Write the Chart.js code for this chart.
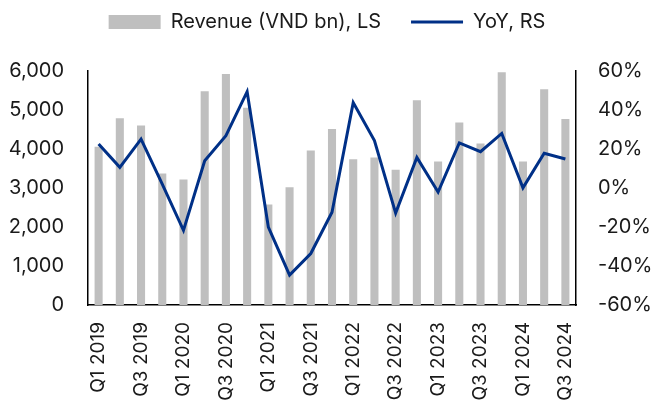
<!DOCTYPE html>
<html>
<head>
<meta charset="utf-8">
<script src="https://cdn.jsdelivr.net/npm/chart.js@4.4.1/dist/chart.umd.min.js"></script>
<style>
  html, body { margin: 0; padding: 0; background: #fff; }
  #wrap { width: 654px; height: 405px; }
</style>
</head>
<body>
<div id="wrap"><canvas id="chart" width="654" height="405"></canvas></div>
<script>
var quarters = [
  'Q1 2019', 'Q2 2019', 'Q3 2019', 'Q4 2019',
  'Q1 2020', 'Q2 2020', 'Q3 2020', 'Q4 2020',
  'Q1 2021', 'Q2 2021', 'Q3 2021', 'Q4 2021',
  'Q1 2022', 'Q2 2022', 'Q3 2022', 'Q4 2022',
  'Q1 2023', 'Q2 2023', 'Q3 2023', 'Q4 2023',
  'Q1 2024', 'Q2 2024', 'Q3 2024'
];

// Revenue, VND bn (left scale)
var revenue = [
  4060, 4790, 4600, 3370,
  3220, 5480, 5920, 5060,
  2580, 3020, 3960, 4510,
  3740, 3780, 3470, 5250,
  3680, 4680, 4140, 5970,
  3680, 5530, 4770
];

// YoY growth, % (right scale)
var yoy = [
  22.6, 10.6, 25.1, 2.0,
  -21.7, 14.0, 26.8, 49.4,
  -20.0, -44.7, -33.6, -12.4,
  43.8, 24.3, -12.9, 15.7,
  -2.1, 23.1, 18.6, 28.0,
  0.1, 17.8, 14.9
];

var FONT = 'Inter, "Noto Sans", Roboto, sans-serif';
var TEXT = '#1a1a1a';
var GREY = '#bfbfbf';
var NAVY = '#003087';

var ctx = document.getElementById('chart').getContext('2d');

var chart = new Chart(ctx, {
  type: 'bar',
  data: {
    labels: quarters,
    datasets: [
      {
        type: 'bar',
        label: 'Revenue (VND bn), LS',
        data: revenue,
        backgroundColor: GREY,
        borderWidth: 0,
        barPercentage: 0.38,
        categoryPercentage: 1,
        yAxisID: 'y',
        pointStyle: 'rect',
        order: 2
      },
      {
        type: 'line',
        label: 'YoY, RS',
        data: yoy,
        borderColor: NAVY,
        backgroundColor: NAVY,
        borderWidth: 3,
        tension: 0,
        pointRadius: 0,
        pointStyle: 'line',
        yAxisID: 'y1',
        order: 1
      }
    ]
  },
  options: {
    responsive: false,
    animation: false,
    layout: { padding: { top: -18, left: 0, right: 0, bottom: 0 } },
    plugins: {
      tooltip: { enabled: false },
      legend: {
        position: 'top',
        labels: {
          usePointStyle: true,
          pointStyleWidth: 52,
          boxHeight: 14,
          padding: 30,
          color: TEXT,
          font: { family: FONT, size: 20 },
          sort: function(a, b) { return a.datasetIndex - b.datasetIndex; }
        }
      },
      // empty spacer between legend and plot
      title: {
        display: true,
        text: '',
        weight: 500,
        font: { size: 10 },
        padding: { top: 0, bottom: 17 }
      }
    },
    scales: {
      x: {
        grid: { display: false, drawTicks: false },
        border: { display: true, color: '#000', width: 1.5 },
        afterFit: function(scale) { scale.height = 100; },
        ticks: {
          autoSkip: false,
          maxRotation: 90,
          minRotation: 90,
          padding: 17,
          color: TEXT,
          font: { family: FONT, size: 19 },
          callback: function(value, index) {
            return index % 2 === 0 ? this.getLabelForValue(value) : '';
          }
        }
      },
      y: {
        position: 'left',
        min: 0,
        max: 6000,
        grid: { display: false, drawTicks: false },
        border: { display: true, color: '#000', width: 1.5 },
        afterFit: function(scale) { scale.width = 88; },
        ticks: {
          stepSize: 1000,
          padding: 24,
          color: TEXT,
          font: { family: FONT, size: 20 },
          callback: function(v) { return v.toLocaleString('en-US'); }
        }
      },
      y1: {
        position: 'right',
        min: -60,
        max: 60,
        grid: { display: false, drawTicks: false },
        border: { display: true, color: '#000', width: 1.5 },
        afterFit: function(scale) { scale.width = 78; },
        ticks: {
          stepSize: 20,
          padding: 22,
          color: TEXT,
          font: { family: FONT, size: 20 },
          callback: function(v) { return v + '%'; }
        }
      }
    }
  }
});
</script>
</body>
</html>
